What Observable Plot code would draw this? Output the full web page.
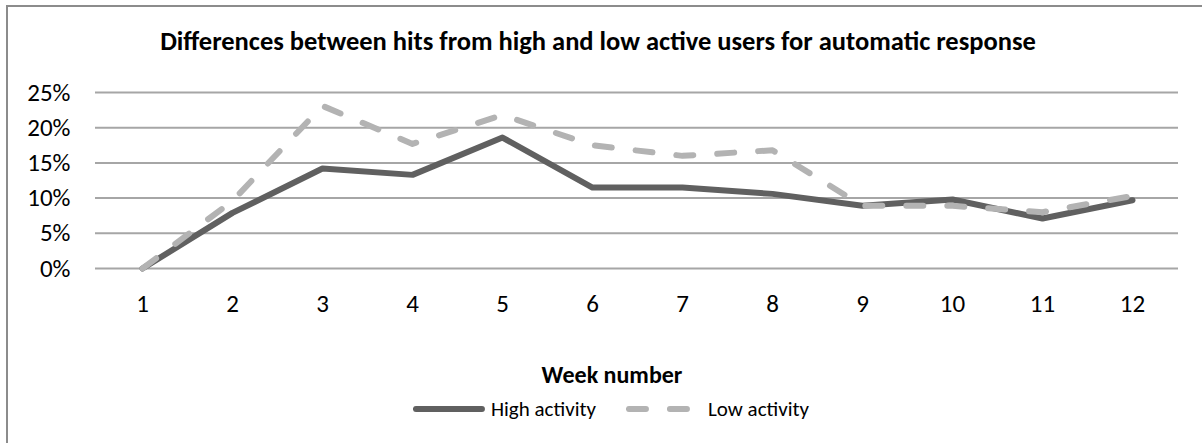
<!DOCTYPE html>
<html>
<head>
<meta charset="utf-8">
<script src="https://cdn.jsdelivr.net/npm/d3@7"></script>
<script src="https://cdn.jsdelivr.net/npm/@observablehq/plot@0.6"></script>
<style>
  html, body { margin: 0; padding: 0; background: #fff; }
  body { font-family: Calibri, Carlito, Lato, sans-serif; color: #000; }
  #wrap { position: relative; width: 1202px; height: 443px; overflow: hidden; background: #fff; }
  #frame { position: absolute; left: 6px; top: 5px; width: 1400px; height: 600px; border: 2px solid #8c8c8c; box-sizing: border-box; }
  .lbl { position: absolute; transform: translate(-50%, -50%); white-space: nowrap; }
  #title { left: 598px; top: 41px; font-size: 26.5px; font-weight: bold; }
  #xtitle { left: 612px; top: 374px; font-size: 24px; font-weight: bold; }
  #legend { left: 611px; top: 409px; font-size: 21px; display: flex; align-items: center; }
  #legend svg { display: block; }
  #chart { position: absolute; left: 0; top: 0; }
</style>
</head>
<body>
<div id="wrap">
  <div id="frame"></div>
  <div id="chart"></div>
  <div id="title" class="lbl">Differences between hits from high and low active users for automatic response</div>
  <div id="xtitle" class="lbl">Week number</div>
  <div id="legend" class="lbl"></div>
</div>
<script>
// Week numbers on the category axis
const weeks = [1, 2, 3, 4, 5, 6, 7, 8, 9, 10, 11, 12];
// Share of hits per week, by user activity group
const highActivity = [0.000, 0.079, 0.142, 0.133, 0.186, 0.115, 0.115, 0.106, 0.089, 0.098, 0.071, 0.097];
const lowActivity  = [0.000, 0.096, 0.231, 0.177, 0.218, 0.175, 0.160, 0.168, 0.089, 0.089, 0.080, 0.103];
// Value axis ticks
const yTicks = [0, 0.05, 0.10, 0.15, 0.20, 0.25];

const series = [
  {name: "High activity", values: highActivity, stroke: "#606060", dash: null},
  {name: "Low activity", values: lowActivity, stroke: "#b3b3b3", dash: "17,24"}
];

const rows = series.flatMap(s => weeks.map((w, i) => ({series: s.name, week: w, value: s.values[i]})));
const high = rows.filter(d => d.series === "High activity");
const low = rows.filter(d => d.series === "Low activity");

const chart = Plot.plot({
  width: 1202,
  height: 340,
  marginLeft: 95,
  marginRight: 24,
  marginTop: 92,
  marginBottom: 72,
  style: {fontFamily: "Calibri, Carlito, Lato, sans-serif", fontSize: "25px", color: "#000", background: "transparent"},
  x: {type: "point", domain: weeks, padding: 0.5},
  y: {domain: [0, 0.25]},
  marks: [
    Plot.ruleY(yTicks, {stroke: "#a6a6a6", strokeWidth: 2, strokeOpacity: 1}),
    Plot.axisY(yTicks, {tickSize: 0, tickPadding: 25, tickFormat: d3.format(".0%"), label: null, fill: "#000"}),
    Plot.axisX(weeks, {tickSize: 0, tickPadding: 26, label: null, fill: "#000"}),
    Plot.lineY(high, {x: "week", y: "value", stroke: series[0].stroke, strokeWidth: 6, strokeLinejoin: "round", strokeLinecap: "round"}),
    Plot.lineY(low, {x: "week", y: "value", stroke: series[1].stroke, strokeWidth: 6, strokeDasharray: series[1].dash, strokeLinejoin: "round", strokeLinecap: "round"})
  ]
});
document.getElementById("chart").appendChild(chart);

// Legend: a swatch line followed by the series name
const legend = document.getElementById("legend");
series.forEach((s, i) => {
  const ns = "http://www.w3.org/2000/svg";
  const svg = document.createElementNS(ns, "svg");
  svg.setAttribute("width", 72);
  svg.setAttribute("height", 12);
  const line = document.createElementNS(ns, "line");
  line.setAttribute("x1", 3);
  line.setAttribute("x2", s.dash ? 61 : 69);
  line.setAttribute("y1", 6);
  line.setAttribute("y2", 6);
  line.setAttribute("stroke", s.stroke);
  line.setAttribute("stroke-width", 6);
  line.setAttribute("stroke-linecap", "round");
  if (s.dash) line.setAttribute("stroke-dasharray", s.dash);
  svg.appendChild(line);
  const label = document.createElement("span");
  label.textContent = s.name;
  label.style.marginLeft = s.dash ? "10px" : "6px";
  label.style.marginRight = i === 0 ? "30px" : "0";
  legend.appendChild(svg);
  legend.appendChild(label);
});
</script>
</body>
</html>
